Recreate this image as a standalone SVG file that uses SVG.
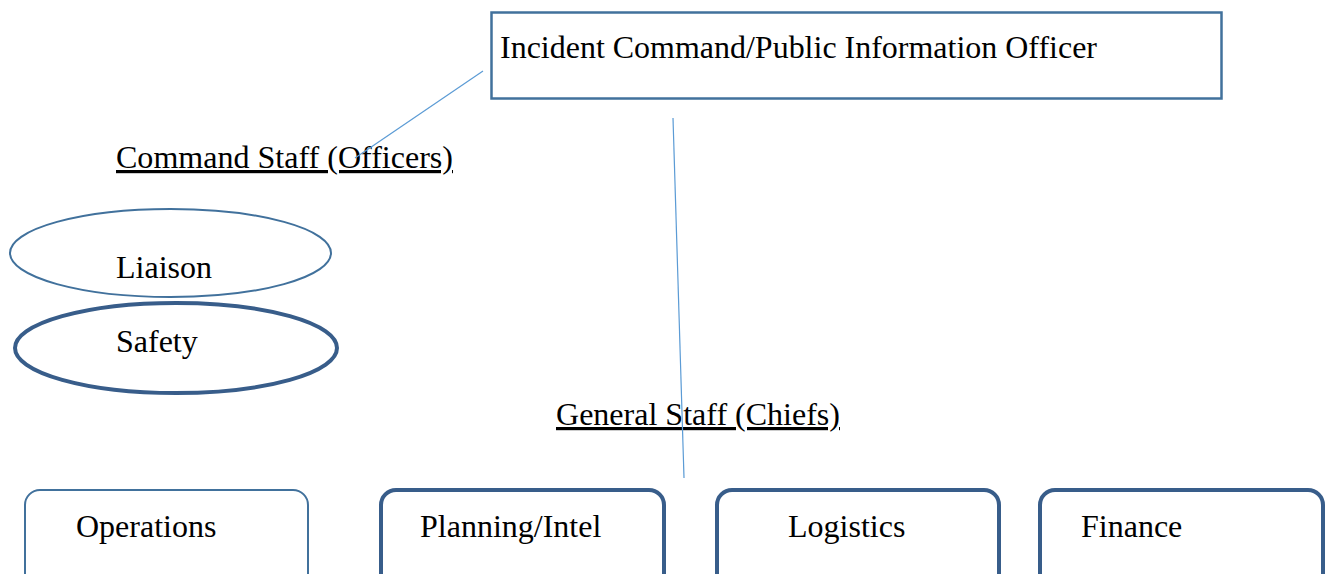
<svg xmlns="http://www.w3.org/2000/svg" width="1326" height="574" viewBox="0 0 1326 574">
<style>
text{font-family:"Liberation Serif","Times New Roman",serif;font-size:32px;fill:#000}
.u{text-decoration:underline}
.thin{fill:#fff;stroke:#41719c;stroke-width:2}
.thick{fill:#fff;stroke:#385d8a;stroke-width:4}
.conn{stroke:#5b9bd5;stroke-width:1.2;fill:none}
</style>
<rect width="1326" height="574" fill="#fff"/>
<g id="ic">
<rect class="thin" x="491.5" y="12.5" width="730" height="86" style="stroke-width:2.5"/>
<text x="500" y="58" textLength="597" lengthAdjust="spacingAndGlyphs">Incident Command/Public Information Officer</text>
</g>
<g id="command-staff">
<text class="u" x="116" y="168" textLength="337" lengthAdjust="spacingAndGlyphs">Command Staff (Officers)</text>
</g>
<g id="general-staff">
<text class="u" x="556" y="425" textLength="284" lengthAdjust="spacingAndGlyphs">General Staff (Chiefs)</text>
</g>
<g id="connectors">
<line class="conn" x1="483" y1="71" x2="355" y2="158"/>
<line class="conn" x1="673" y1="118" x2="684" y2="478"/>
</g>
<g id="liaison">
<ellipse class="thin" cx="170.5" cy="253" rx="160.5" ry="44"/>
<text x="116" y="278">Liaison</text>
</g>
<g id="safety">
<ellipse class="thick" cx="176" cy="348" rx="161" ry="45"/>
<text x="116" y="352">Safety</text>
</g>
<g id="operations">
<rect class="thin" x="25" y="490" width="283" height="110" rx="15"/>
<text x="76" y="537">Operations</text>
</g>
<g id="planning">
<rect class="thick" x="381" y="490" width="283" height="110" rx="15"/>
<text x="420" y="537">Planning/Intel</text>
</g>
<g id="logistics">
<rect class="thick" x="717" y="490" width="282" height="110" rx="15"/>
<text x="788" y="537">Logistics</text>
</g>
<g id="finance">
<rect class="thick" x="1040" y="490" width="283" height="110" rx="15"/>
<text x="1081" y="537">Finance</text>
</g>
</svg>
